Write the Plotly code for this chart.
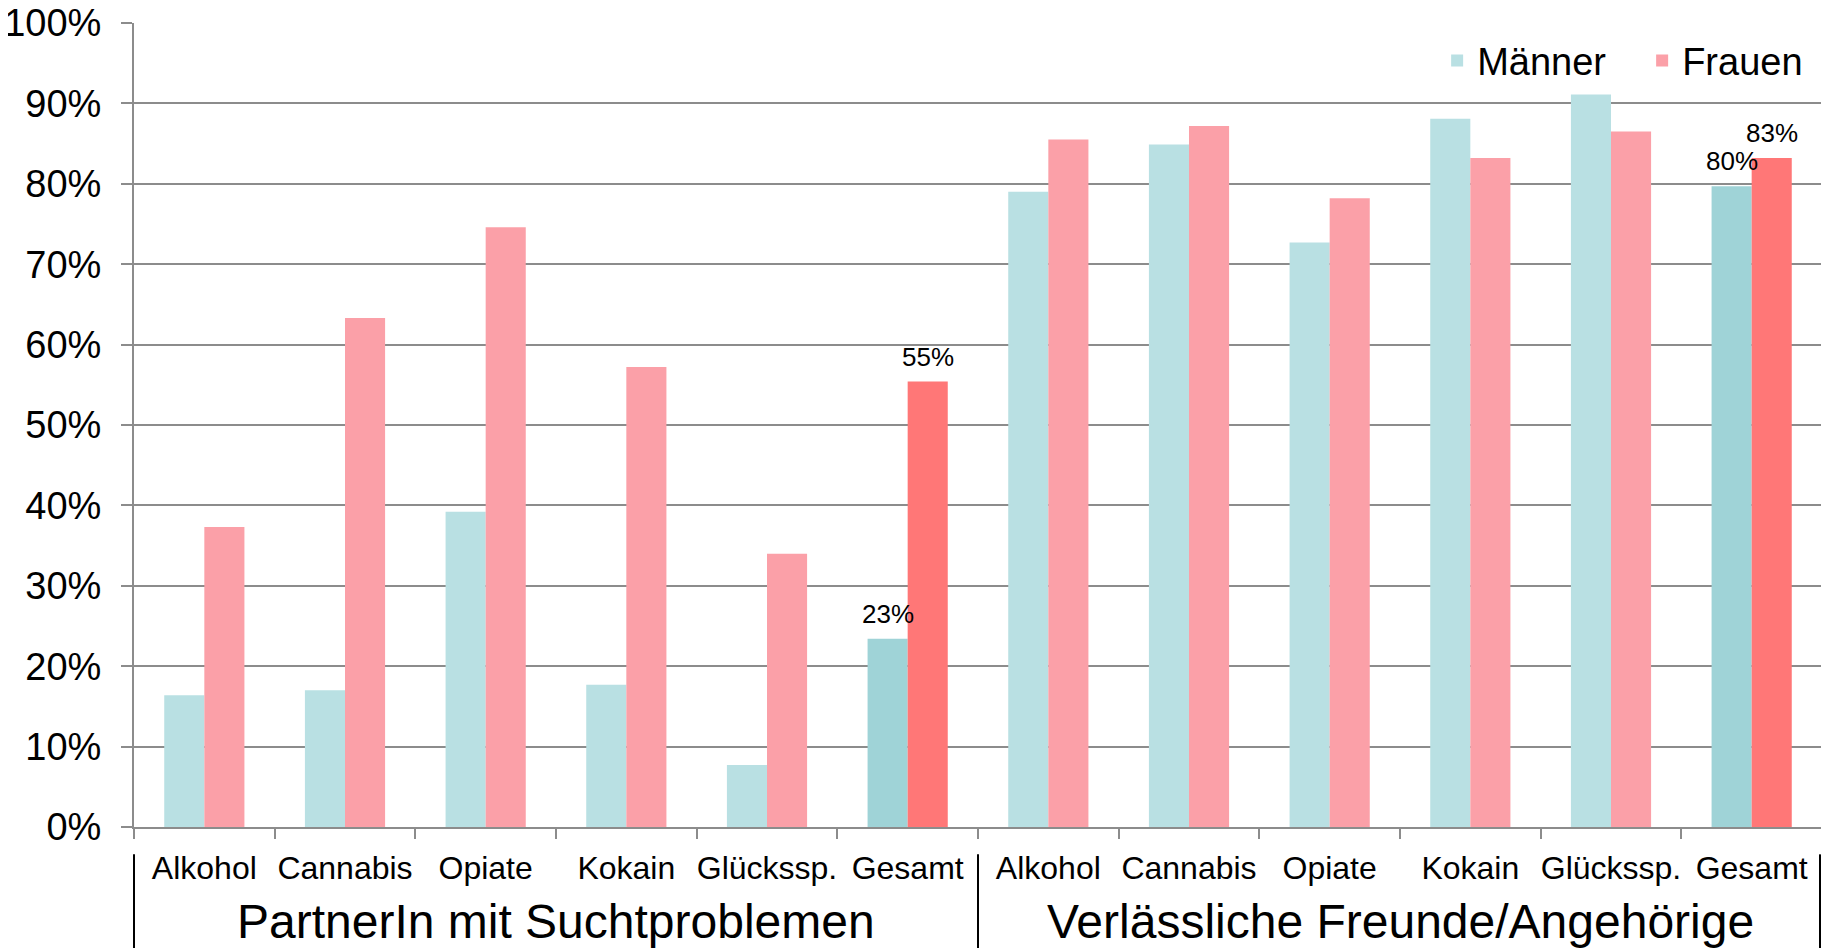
import plotly.graph_objects as go

# data (percent)
kategorien = ["Alkohol", "Cannabis", "Opiate", "Kokain", "Glückssp.", "Gesamt"]
gruppen = ["PartnerIn mit Suchtproblemen", "Verlässliche Freunde/Angehörige"]

maenner_partner = [16.4, 17.0, 39.2, 17.7, 7.7, 23.4]
frauen_partner = [37.3, 63.3, 74.6, 57.2, 34.0, 55.4]
maenner_freunde = [79.0, 84.9, 72.7, 88.1, 91.1, 79.7]
frauen_freunde = [85.5, 87.2, 78.2, 83.2, 86.5, 83.2]

y_ticks = list(range(0, 101, 10))

# colours
m_hell, m_dunkel = "#B9E0E3", "#9FD3D7"
f_hell, f_dunkel = "#FBA0A8", "#FF7777"
FONT = "Liberation Sans, Arial, sans-serif"

# unique ids for the 12 category slots
ids = [f"{g}|{k}" for g in gruppen for k in kategorien]
labels = kategorien * 2
maenner = maenner_partner + maenner_freunde
frauen = frauen_partner + frauen_freunde
m_farben = [m_dunkel if k == "Gesamt" else m_hell for k in labels]
f_farben = [f_dunkel if k == "Gesamt" else f_hell for k in labels]

fig = go.Figure()
fig.add_trace(go.Bar(x=ids, y=maenner, name="Männer",
                     marker=dict(color=m_farben, line=dict(width=0))))
fig.add_trace(go.Bar(x=ids, y=frauen, name="Frauen",
                     marker=dict(color=f_farben, line=dict(width=0))))

# value labels on the "Gesamt" bars
bar_px = 40
for i, k in enumerate(labels):
    if k != "Gesamt":
        continue
    for val, shift in ((maenner[i], -bar_px / 2), (frauen[i], bar_px / 2)):
        fig.add_annotation(x=ids[i], y=val, text=f"{val:.0f}%", showarrow=False,
                           xshift=shift, yshift=8, yanchor="bottom", xanchor="center",
                           font=dict(size=26, color="black", family=FONT))

# group labels below the category labels
for j, g in enumerate(gruppen):
    fig.add_annotation(x=0.25 + 0.5 * j, y=-0.117, xref="paper", yref="paper",
                       text=g, showarrow=False, xanchor="center", yanchor="middle",
                       font=dict(size=48, color="black", family=FONT))

# separator lines between the groups
for xp in (0.0, 0.5, 0.9988):
    fig.add_shape(type="line", xref="paper", yref="paper",
                  x0=xp, x1=xp, y0=-0.034, y1=-0.16,
                  line=dict(color="black", width=2))

# page body has an 8px margin, so the figure is a bit smaller than the window
fig.update_layout(
    width=1821, height=940,
    margin=dict(l=126, r=7, t=15, b=121, autoexpand=False),
    plot_bgcolor="white", paper_bgcolor="white",
    barmode="group", bargap=0.43, bargroupgap=0,
    font=dict(family=FONT, color="black"),
    showlegend=True,
    legend=dict(orientation="h", x=0.772, xanchor="left", y=0.953, yanchor="middle",
                font=dict(size=38, family=FONT), bgcolor="rgba(0,0,0,0)",
                traceorder="normal", entrywidth=160),
)
fig.update_xaxes(
    type="category", tickmode="array", tickvals=ids, ticktext=labels,
    tickson="boundaries", ticks="outside", ticklen=10, tickcolor="#8c8c8c",
    tickwidth=1.5, showline=True, linecolor="#8c8c8c", linewidth=2,
    showgrid=False, tickfont=dict(size=32, family=FONT, color="black"),
    ticklabelstandoff=12, tickangle=0, automargin=False,
)
fig.update_yaxes(
    range=[0, 100], tickmode="array", tickvals=y_ticks,
    ticktext=[f"{v}%" for v in y_ticks], showgrid=True, gridcolor="#8c8c8c",
    gridwidth=1.5, showline=True, linecolor="#8c8c8c", linewidth=2,
    ticks="outside", ticklen=11, tickcolor="#8c8c8c", tickwidth=1.5,
    tickfont=dict(size=38, family=FONT, color="black"), ticklabelstandoff=12,
    ticklabeloverflow="allow", zeroline=False, automargin=False,
)

fig.write_html("out.html")
